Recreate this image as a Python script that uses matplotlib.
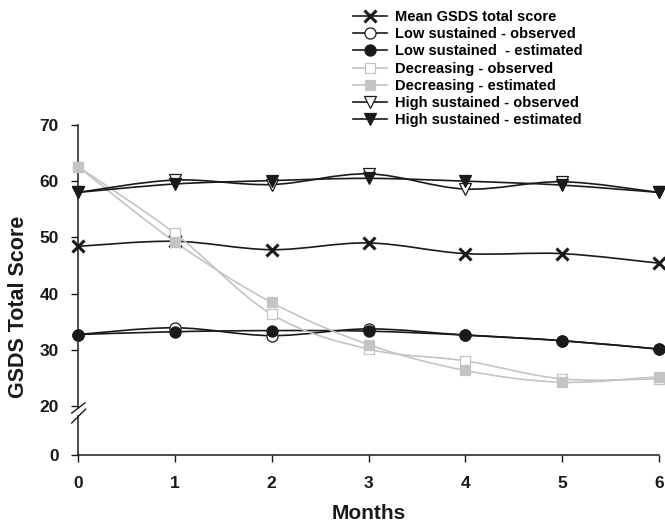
import numpy as np
import matplotlib
matplotlib.use("Agg")
import matplotlib.pyplot as plt
from matplotlib.path import Path
from matplotlib.patches import PathPatch
from matplotlib.lines import Line2D

plt.rcParams['font.family'] = ['Liberation Sans', 'DejaVu Sans']
plt.rcParams['font.weight'] = 'bold'

months = [0, 1, 2, 3, 4, 5, 6]
mean_total = [48.4, 49.3, 47.8, 49.0, 47.1, 47.1, 45.4]
low_obs = [32.7, 33.9, 32.5, 33.7, 32.6, 31.6, 30.1]
low_est = [32.7, 33.2, 33.4, 33.3, 32.6, 31.6, 30.1]
dec_obs = [62.6, 50.7, 36.3, 30.1, 28.0, 24.8, 24.8]
dec_est = [62.6, 49.2, 38.4, 30.9, 26.3, 24.2, 25.2]
high_obs = [58.0, 60.2, 59.4, 61.3, 58.6, 59.9, 58.0]
high_est = [58.0, 59.5, 60.1, 60.5, 60.0, 59.3, 58.0]

labels = ["Mean GSDS total score", "Low sustained - observed",
          "Low sustained  - estimated", "Decreasing - observed",
          "Decreasing - estimated", "High sustained - observed",
          "High sustained - estimated"]
yticks = [0, 20, 30, 40, 50, 60, 70]

BLACK = '#1a1a1a'
GREY = '#c4c4c4'
K = 0.4375


def fwd(y):
    y = np.asarray(y, dtype=float)
    return np.where(y >= 20, y, 20 - (20 - y) * K)


def inv(u):
    u = np.asarray(u, dtype=float)
    return np.where(u >= 20, u, 20 - (20 - u) / K)


def smooth_path(xs, ys):
    P = np.column_stack([xs, ys]).astype(float)
    n = len(P)
    verts = [P[0]]
    codes = [Path.MOVETO]
    for i in range(n - 1):
        p0 = P[i - 1] if i > 0 else P[i]
        p1 = P[i]
        p2 = P[i + 1]
        p3 = P[i + 2] if i + 2 < n else P[i + 1]
        c1 = p1 + (p2 - p0) / 6.0
        c2 = p2 - (p3 - p1) / 6.0
        verts += [c1, c2, p2]
        codes += [Path.CURVE4] * 3
    return Path(np.array(verts), codes)


fig = plt.figure(figsize=(6.65, 5.23), dpi=100)
ax = fig.add_axes([78 / 665, 1 - 455 / 523, 581 / 665, 330 / 523])
ax.set_yscale('function', functions=(fwd, inv))
ax.set_xlim(0, 6)
ax.set_ylim(0, 70)

series = [
    (mean_total, BLACK, 'x', BLACK, BLACK),
    (low_obs, BLACK, 'o', 'white', BLACK),
    (low_est, BLACK, 'o', BLACK, BLACK),
    (dec_obs, GREY, 's', 'white', GREY),
    (dec_est, GREY, 's', GREY, GREY),
    (high_obs, BLACK, 'v', 'white', BLACK),
    (high_est, BLACK, 'v', BLACK, BLACK),
]
msizes = {'x': 8, 'o': 8, 's': 7.5, 'v': 9}
mews = {'x': 2.2, 'o': 0.9, 's': 0.9, 'v': 0.9}

handles = []
for i, (vals, col, mk, fc, ec) in enumerate(series):
    patch = PathPatch(smooth_path(months, vals), fill=False, edgecolor=col,
                      lw=1.2, zorder=2 + i * 0.1, clip_on=False)
    ax.add_patch(patch)
    ax.plot(months, vals, linestyle='none', marker=mk, ms=msizes[mk],
            mfc=fc, mec=ec, mew=mews[mk], zorder=3 + i * 0.1, clip_on=False)
    handles.append(Line2D([], [], color=col, lw=1.2, marker=mk,
                          ms=msizes[mk], mfc=fc, mec=ec, mew=mews[mk]))

ax.set_xticks(months)
ax.set_yticks(yticks)
ax.tick_params(axis='both', direction='out', length=5, width=1,
               colors=BLACK, labelsize=12.5)
ax.tick_params(axis='x', pad=10)
ax.tick_params(axis='y', pad=9)
for lab in ax.get_xticklabels() + ax.get_yticklabels():
    lab.set_fontweight('bold')

for s in ['top', 'right', 'left']:
    ax.spines[s].set_visible(False)
ax.spines['bottom'].set_linewidth(1.1)
ax.spines['bottom'].set_color(BLACK)

# broken left spine
ax.plot([0, 0], [0.142, 1.0], transform=ax.transAxes, color=BLACK, lw=1.1,
        clip_on=False)
ax.plot([0, 0], [0.0, 0.118], transform=ax.transAxes, color=BLACK, lw=1.1,
        clip_on=False)
ax.plot([-0.0108, 0.012], [0.127, 0.158], transform=ax.transAxes,
        color=BLACK, lw=1.0, clip_on=False)
ax.plot([-0.0108, 0.013], [0.097, 0.139], transform=ax.transAxes,
        color=BLACK, lw=1.0, clip_on=False)

ax.set_xlabel('Months', fontsize=15, fontweight='bold', color=BLACK)
ax.xaxis.set_label_coords(0.5, -0.147)
ax.set_ylabel('GSDS Total Score', fontsize=15.5, fontweight='bold', color=BLACK)
ax.yaxis.set_label_coords(-0.085, 0.45)

fig.legend(handles, labels, loc='upper left',
           bbox_to_anchor=(353 / 665, 1 - 10 / 523), frameon=False,
           handlelength=2.3, handletextpad=0.55,
           labelspacing=0.22, borderpad=0, borderaxespad=0,
           prop={'weight': 'bold', 'size': 10.5})

fig.savefig('out.png', dpi=100)
